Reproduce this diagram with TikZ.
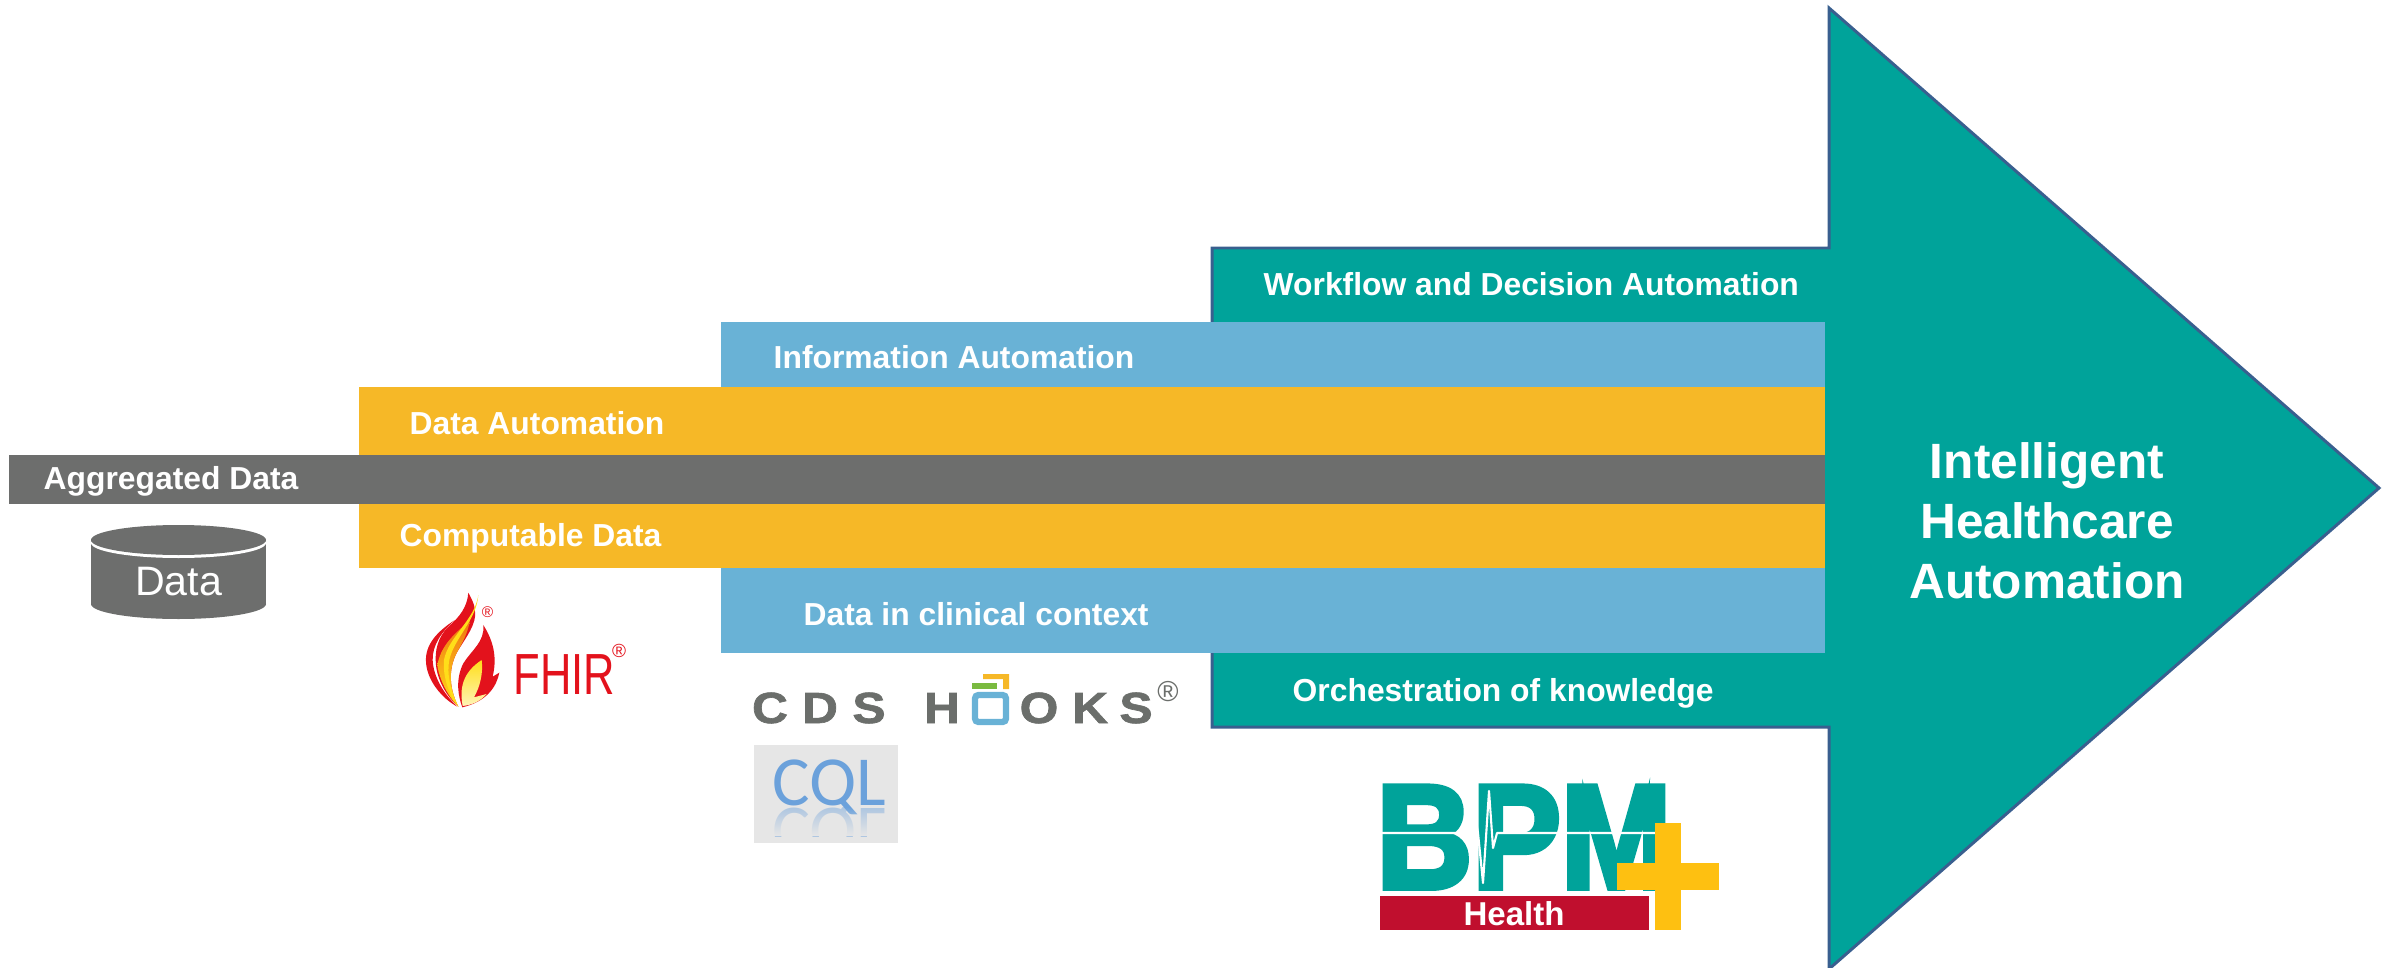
\documentclass[tikz,border=0pt]{standalone}
\usepackage{fontspec}
\setmainfont{Liberation Sans}
\newfontfamily\cqlfont{Carlito}
\newfontfamily\bpmfont{Liberation Sans}[BoldFeatures={FakeBold=4}]
\newfontfamily\hooksfont{Liberation Sans}[BoldFeatures={FakeBold=1.5}]
\usetikzlibrary{fadings}
\tikzset{
  barlabel/.style={inner sep=0,anchor=base west,text=white,font=\bfseries\fontsize{9.05}{11}\selectfont},
  hooksletter/.style={inner sep=0,anchor=base,xscale=1.14,text=color_hooks,font=\hooksfont\bfseries\fontsize{12.4}{14}\selectfont},
  regmark/.style={inner sep=0,text=color_fhir}
}
\begin{document}
\begin{tikzpicture}[x=0.01cm,y=-0.01cm]
    \definecolor{color_teal}{rgb}{0, 0.639, 0.604}
    \definecolor{color_edge}{rgb}{0.224, 0.373, 0.561}
    \definecolor{color_blue}{rgb}{0.412, 0.698, 0.839}
    \definecolor{color_gold}{rgb}{0.965, 0.722, 0.153}
    \definecolor{color_grey}{rgb}{0.427, 0.431, 0.427}
    \definecolor{color_hooks}{rgb}{0.42, 0.43, 0.42}
    \definecolor{color_fhir}{rgb}{0.89, 0.07, 0.11}
    \definecolor{color_amber}{rgb}{0.94, 0.45, 0.07}
    \definecolor{color_yellow}{rgb}{1, 0.87, 0.1}
    \definecolor{color_cream}{rgb}{1, 0.96, 0.72}
    \definecolor{color_cql}{rgb}{0.902, 0.902, 0.902}
    \definecolor{color_cqltext}{rgb}{0.42, 0.63, 0.86}
    \definecolor{color_plus}{rgb}{0.996, 0.753, 0.067}
    \definecolor{color_health}{rgb}{0.753, 0.059, 0.18}
    \definecolor{color_leaf}{rgb}{0.48, 0.73, 0.25}
    \useasboundingbox (0,0) rectangle (2395,967);

    \draw[color_edge,line width=0.85pt,fill=color_teal,line join=miter] (1212,248) -- (1829,248) -- (1829,8) -- (2379,488) -- (1829,969) -- (1829,727) -- (1212,727) -- cycle;

    \fill[color_blue] (721,322) rectangle (1825,653);
    \fill[color_gold] (359,387) rectangle (1825,568);
    \fill[color_grey] (9,455) rectangle (1825,504);

    \node[barlabel] (workflow_text) at (1263,296) {Workflow and Decision Automation};
    \node[barlabel] (information_text) at (773,368) {Information Automation};
    \node[barlabel] (automation_text) at (409,434) {Data Automation};
    \node[barlabel] (aggregated_text) at (43,489) {Aggregated Data};
    \node[barlabel] (computable_text) at (399,546) {Computable Data};
    \node[barlabel] (context_text) at (803,625) {Data in clinical context};
    \node[barlabel] (orchestration_text) at (1292,701) {Orchestration of knowledge};
    \node[inner sep=0,text=white,align=center,font=\bfseries\fontsize{14.1}{17}\selectfont] (healthcare_text) at (2047,521) {Intelligent\\Healthcare\\Automation};

    \fill[color_grey] (91,540) rectangle (266,604);
    \fill[color_grey] (178.5,604) ellipse [x radius=87.5,y radius=15];
    \fill[white] (178.5,543) ellipse [x radius=87.5,y radius=15];
    \fill[color_grey] (178.5,540) ellipse [x radius=87.5,y radius=15];
    \node[inner sep=0,anchor=base,text=white,font=\fontsize{11.7}{14}\selectfont] (data_text) at (178.5,595) {Data};

    \begin{scope}[shift={(380,570)},scale=0.3333]
      \fill[color_fhir] (225,150) .. controls (170,185) and (135,225) .. (138,275) .. controls (140,330) and (185,385) .. (232,410) .. controls (190,370) and (160,320) .. (158,270) .. controls (157,225) and (185,185) .. (225,150) -- cycle;
      \fill[color_fhir] (265,68) .. controls (262,110) and (240,140) .. (205,170) .. controls (175,200) and (163,240) .. (168,285) .. controls (172,330) and (200,380) .. (235,410) .. controls (205,350) and (205,290) .. (235,240) .. controls (260,200) and (290,160) .. (285,125) .. controls (285,100) and (270,80) .. (265,68) -- cycle;
      \shade[top color=color_amber,bottom color=color_yellow] (270,150) .. controls (240,180) and (185,215) .. (172,285) .. controls (178,330) and (205,380) .. (235,410) .. controls (205,350) and (205,290) .. (235,240) .. controls (255,205) and (265,180) .. (270,150) -- cycle;
      \fill[color_yellow] (295,75) .. controls (285,150) and (205,200) .. (192,270) .. controls (188,320) and (205,370) .. (235,410) .. controls (210,360) and (200,310) .. (208,270) .. controls (222,205) and (290,150) .. (295,75) -- cycle;
      \fill[color_fhir] (310,165) .. controls (345,220) and (350,270) .. (338,320) -- (358,308) .. controls (350,350) and (320,395) .. (247,412) .. controls (235,380) and (225,330) .. (250,280) .. controls (275,240) and (315,215) .. (310,165) -- cycle;
      \shade[top color=color_yellow,bottom color=color_cream] (305,270) .. controls (260,300) and (235,340) .. (248,408) .. controls (275,405) and (300,395) .. (320,372) -- (282,382) .. controls (300,350) and (310,310) .. (305,270) -- cycle;
    \end{scope}
    \node[regmark,font=\fontsize{4.4}{5}\selectfont] (flame_reg) at (487.5,612.5) {®};
    \node[regmark,anchor=base west,xscale=0.75,font=\fontsize{16.5}{18}\selectfont] (fhir_text) at (513,694) {FHIR};
    \node[regmark,font=\fontsize{5.4}{6}\selectfont] (fhir_reg) at (619,650.5) {®};

    \node[hooksletter] (hooks_c) at (770,723) {C};
    \node[hooksletter] (hooks_d) at (820,723) {D};
    \node[hooksletter] (hooks_s) at (869,723) {S};
    \node[hooksletter] (hooks_h) at (942,723) {H};
    \node[hooksletter] (hooks_o) at (1039,723) {O};
    \node[hooksletter] (hooks_k) at (1090,723) {K};
    \node[hooksletter] (hooks_z) at (1136,723) {S};
    \draw[color_blue,line width=1.8pt,rounded corners=1pt] (975,695) rectangle (1006,722);
    \fill[color_leaf] (972,683) rectangle (997,689);
    \fill[color_gold] (983,674) -- (1009,674) -- (1009,689) -- (1003,689) -- (1003,679) -- (983,679) -- cycle;
    \node[inner sep=0,text=color_hooks,font=\fontsize{8.2}{9}\selectfont] (hooks_reg) at (1168,692) {®};

    \fill[color_cql] (754,745) rectangle (898,843);
    \node[inner sep=0,anchor=base,text=color_cqltext,font=\cqlfont\fontsize{20}{22}\selectfont] (cql_text) at (829,805) {CQL};
    \begin{scope}
      \clip (754,807) rectangle (898,836);
      \node[inner sep=0,anchor=base,yscale=-1,text=color_cqltext,opacity=0.45,font=\cqlfont\fontsize{20}{22}\selectfont] (cql_mirror) at (829,808) {CQL};
      \fill[color_cql,path fading=north] (754,807) rectangle (898,836);
    \end{scope}

    \node[inner sep=0,anchor=base,xscale=0.9,text=color_teal,font=\bpmfont\bfseries\fontsize{42}{44}\selectfont] (bpm_text) at (1524,888) {BPM};
    \draw[white,line width=0.6pt,line join=round] (1380,833) -- (1470,833) -- (1475,815) -- (1478,833) -- (1483,883) -- (1489,791) -- (1493,848) -- (1497,833) -- (1655,833);
    \fill[color_plus] (1655,823) rectangle (1681,930);
    \fill[color_plus] (1617,863) rectangle (1719,890);
    \fill[color_health] (1380,896) rectangle (1649,930);
    \node[inner sep=0,text=white,font=\bfseries\fontsize{9.4}{11}\selectfont] (health_text) at (1514,914) {Health};
\end{tikzpicture}
\end{document}
